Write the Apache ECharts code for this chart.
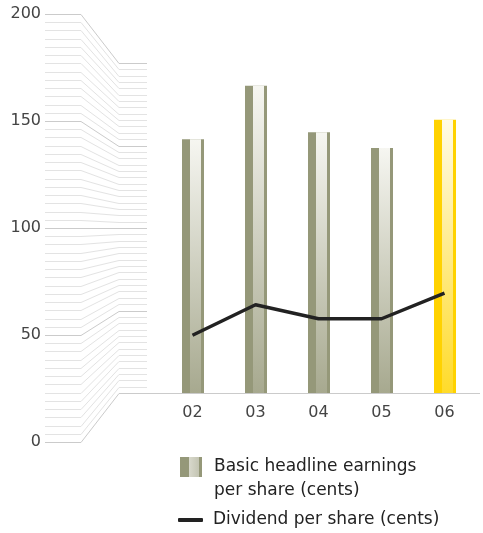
<!DOCTYPE html>
<html><head><meta charset="utf-8">
<script src="https://cdn.jsdelivr.net/npm/echarts@6/dist/echarts.min.js"></script>
<style>html,body{margin:0;padding:0;background:#fff}#c{width:483px;height:533px}</style>
</head><body><div id="c"></div>
<script>
const years = ['02', '03', '04', '05', '06'];
const earnings = [153.8, 186.2, 158.1, 148.5, 165.6];
const dividends = [35, 53.5, 45, 45, 60.5];
const highlightYear = '06';
const earningsName = 'Basic headline earnings\nper share (cents)';
const dividendName = 'Dividend per share (cents)';
const yMin = 0, yMax = 200, yStep = 50;
const fanDivisions = 52;

const FONT = 'DejaVu Sans';
const olive = '#959879';
const yellow = '#FFD200';

const chart = echarts.init(document.getElementById('c'), null, {renderer: 'canvas'});

function renderBar(params, api) {
  const i = api.value(0), v = api.value(1);
  const top = api.coord([i, v]);
  const base = api.coord([i, 0]);
  const cx = Math.round(top[0]);
  const h = base[1] - top[1];
  const hi = years[i] === highlightYear;
  const edge = hi ? yellow : olive;
  const light = new echarts.graphic.LinearGradient(0, 0, 0, 1, [
    {offset: 0, color: hi ? '#fffbe6' : '#f6f6f1'},
    {offset: 1, color: hi ? '#ffdb2a' : '#a7a98f'}
  ]);
  return {
    type: 'group',
    children: [
      {type: 'rect', shape: {x: cx - 11, y: top[1], width: 22, height: h}, style: {fill: edge}},
      {type: 'rect', shape: {x: cx - 3, y: top[1], width: 11, height: h}, style: {fill: light}}
    ]
  };
}

const option = {
  animation: false,
  backgroundColor: '#fff',
  textStyle: {fontFamily: FONT},
  grid: [
    {left: 45, top: 14, width: 36, height: 428},
    {left: 161, top: 63, width: 315, height: 330}
  ],
  xAxis: [
    {gridIndex: 0, type: 'category', data: [''], show: false},
    {gridIndex: 1, type: 'category', data: years,
      axisLine: {show: false}, axisTick: {show: false},
      axisLabel: {margin: 12, fontSize: 16, color: '#444', fontFamily: FONT}}
  ],
  yAxis: [
    {gridIndex: 0, type: 'value', min: yMin, max: yMax, interval: yStep,
      axisLine: {show: false}, axisTick: {show: false}, splitLine: {show: false},
      axisLabel: {margin: 4, fontSize: 16, color: '#444', fontFamily: FONT}},
    {gridIndex: 1, type: 'value', min: yMin, max: yMax, interval: yStep, show: false,
      splitLine: {show: false}}
  ],
  legend: [
    {left: 180, top: 431, padding: 0, itemWidth: 22, itemHeight: 20,
      data: [{name: earningsName, icon: 'rect', itemStyle: {color: new echarts.graphic.LinearGradient(0, 0, 1, 0, [
        {offset: 0, color: olive}, {offset: 0.4, color: olive}, {offset: 0.4, color: '#d9d9cd'},
        {offset: 0.85, color: '#c4c5b3'}, {offset: 0.85, color: olive}, {offset: 1, color: olive}])}}],
      formatter: (name) => ' \n' + name,
      textStyle: {fontSize: 17, color: '#222', lineHeight: 24, padding: [0, 0, 0, 7], fontFamily: FONT}},
    {left: 178, top: 508, padding: 0, itemWidth: 25, itemHeight: 4,
      data: [{name: dividendName, icon: 'roundRect', itemStyle: {color: '#222'}}],
      textStyle: {fontSize: 17, color: '#222', lineHeight: 24, padding: [0, 0, 0, 5], fontFamily: FONT}}
  ],
  series: [
    {name: earningsName, type: 'custom', xAxisIndex: 1, yAxisIndex: 1,
      renderItem: renderBar, data: earnings.map((v, i) => [i, v]), z: 3,
      itemStyle: {color: olive}},
    {name: dividendName, type: 'line', xAxisIndex: 1, yAxisIndex: 1,
      data: dividends, symbol: 'none', z: 5,
      lineStyle: {color: '#222', width: 3.5}, itemStyle: {color: '#222'}}
  ]
};
chart.setOption(option);

// perspective fan grid lines, positioned via the two value axes
const gridEls = [];
for (let k = 0; k <= fanDivisions; k++) {
  const v = yMin + (yMax - yMin) * k / fanDivisions;
  const yl = Math.round(chart.convertToPixel({yAxisIndex: 0}, v)) + 0.5;
  const yr = Math.round(chart.convertToPixel({yAxisIndex: 1}, v)) + 0.5;
  const major = k % 13 === 0;
  const endX = k === 0 ? 480 : 147;
  gridEls.push({
    type: 'polyline', z: 0, silent: true,
    shape: {points: [[45, yl], [81, yl], [119, yr], [endX, yr]]},
    style: {stroke: major ? '#cbcbcb' : '#e3e3e3', lineWidth: 1, fill: null}
  });
}
chart.setOption({graphic: gridEls});
</script></body></html>
